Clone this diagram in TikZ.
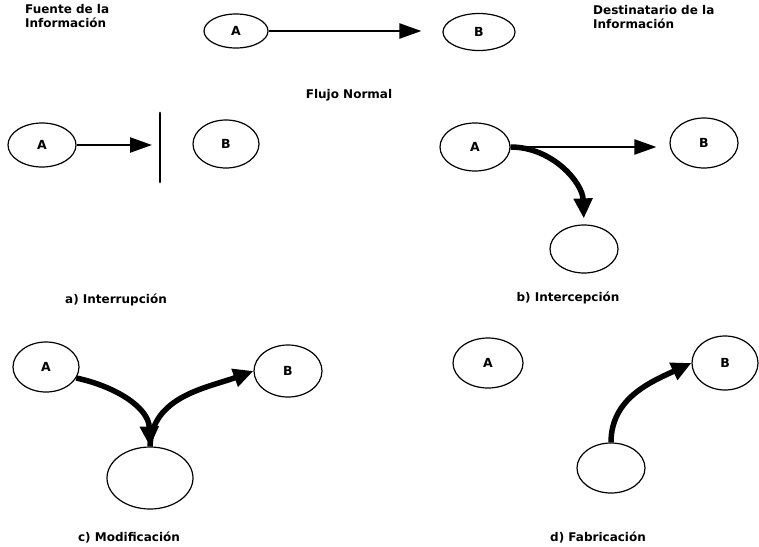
\documentclass[tikz,border=0pt]{standalone}
\usepackage{fontspec}
\setmainfont{DejaVu Sans}
\usetikzlibrary{shapes.geometric,arrows.meta}
\begin{document}
\begin{tikzpicture}[x=1pt,y=-1pt,
  party/.style={draw, ellipse, line width=1.2pt, inner sep=0pt,
    font=\bfseries\fontsize{12.5}{13}\selectfont},
  caption/.style={font=\bfseries\fontsize{12}{14.5}\selectfont, inner sep=0pt, align=left},
  flow/.style={line width=2.4pt, -{Triangle[length=22pt,width=15pt]}},
  curvedflow/.style={line width=5.5pt, -{Triangle[length=20pt,width=18pt]}}
]
\useasboundingbox (0,0) rectangle (759,546);

% Flujo normal
\node[party, minimum width=64pt, minimum height=34pt] (nA) at (236,31) {A};
\node[party, minimum width=72pt, minimum height=37pt] (nB) at (479,32) {B};
\draw[flow, shorten >=21pt] (nA.east) -- (nA.east -| nB.west);
\node[caption, anchor=north west] (src) at (25,4) {Fuente de la\\Información};
\node[caption, anchor=north west] (dst) at (593,5) {Destinatario de la\\Información};
\node[caption] (tN) at (349,95) {Flujo Normal};

% a) Interrupcion
\node[party, minimum width=68pt, minimum height=44pt] (iA) at (42,145) {A};
\node[party, minimum width=66pt, minimum height=48pt] (iB) at (226,144) {B};
\coordinate (barT) at (160,113);
\coordinate (barB) at (160,182);
\draw[line width=2.8pt, line cap=round] (barT) -- (barB);
\draw[flow, shorten >=8pt] (iA.east) -- (iA.east -| barT);
\node[caption] (tI) at (116,300) {a) Interrupción};

% b) Intercepcion
\node[party, minimum width=70pt, minimum height=48pt] (pA) at (475,147) {A};
\node[party, minimum width=68pt, minimum height=50pt] (pB) at (704,143) {B};
\node[party, minimum width=68pt, minimum height=48pt] (pC) at (584,249) {};
\draw[flow, shorten >=13pt] (pA.east) -- (pA.east -| pB.west);
\draw[curvedflow, shorten >=6pt] (pA.east) to[out=0, in=92] (pC.north);
\node[caption] (tP) at (568,298) {b) Intercepción};

% c) Modificacion
\node[party, minimum width=66pt, minimum height=50pt] (mA) at (46,367) {A};
\node[party, minimum width=68pt, minimum height=52pt] (mB) at (288,371) {B};
\node[party, minimum width=86pt, minimum height=62pt] (mC) at (150,478) {};
\draw[curvedflow] (mA.-20) to[out=-12, in=92] (mC.north);
\draw[curvedflow] (mC.north) to[out=88, in=200] (mB.west);
\node[caption] (tM) at (129,537) {c) Modificación};

% d) Fabricacion
\node[party, minimum width=70pt, minimum height=50pt] (fA) at (488,363) {A};
\node[party, minimum width=66pt, minimum height=54pt] (fB) at (725,363) {B};
\node[party, minimum width=68pt, minimum height=50pt] (fC) at (611,468) {};
\draw[curvedflow] (fC.north) to[out=90, in=205] (fB.west);
\node[caption] (tF) at (598,537) {d) Fabricación};
\end{tikzpicture}
\end{document}
